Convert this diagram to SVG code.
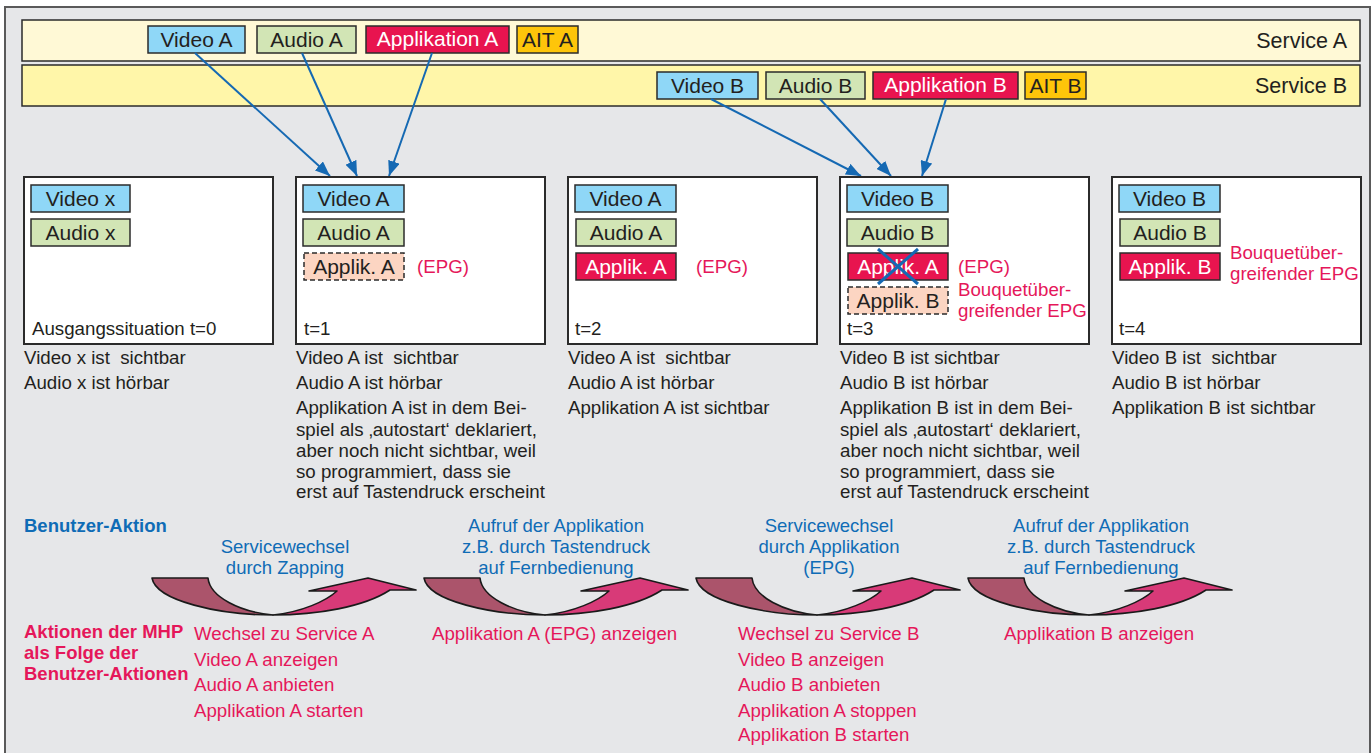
<svg xmlns="http://www.w3.org/2000/svg" width="1372" height="753" viewBox="0 0 1372 753">
  <defs>
    <style>
      text { font-family: "Liberation Sans", Arial, sans-serif; }
      .lbl { font-size: 21px; fill: #231f20; }
      .lblw { font-size: 21px; fill: #ffffff; }
      .svc { font-size: 21.5px; fill: #231f20; text-anchor: end; }
      .txt { font-size: 18.7px; fill: #231f20; }
      .red { font-size: 18.7px; fill: #e5175a; }
      .redb { font-size: 18.5px; fill: #e5175a; font-weight: bold; }
      .blue { font-size: 18.5px; fill: #0f6cb6; text-anchor: middle; }
      .blueb { font-size: 18.5px; fill: #0f6cb6; font-weight: bold; }
      .video { fill: #8fd7f7; stroke: #2b2b2b; stroke-width: 1.5; }
      .audio { fill: #d2e5b5; stroke: #2b2b2b; stroke-width: 1.5; }
      .app { fill: #e8144f; stroke: #2b2b2b; stroke-width: 1.5; }
      .ait { fill: #fec50a; stroke: #2b2b2b; stroke-width: 1.5; }
      .pend { fill: #fcd5c2; stroke: #2b2b2b; stroke-width: 1.5; stroke-dasharray: 5 3; }
      .screen { fill: #ffffff; stroke: #2b2b2b; stroke-width: 2; }
      .conn { stroke: #1569b3; stroke-width: 2; fill: none; }
      .ar-l { fill: #ab546b; stroke: #1a1a1a; stroke-width: 1.6; stroke-linejoin: round; }
      .ar-r { fill: #d83a78; stroke: #1a1a1a; stroke-width: 1.6; stroke-linejoin: round; }
    </style>
    <marker id="head" markerUnits="userSpaceOnUse" markerWidth="15" markerHeight="12" refX="15" refY="6" orient="auto">
      <path d="M0,0 L15,6 L0,12 z" fill="#1569b3"/>
    </marker>
    <!-- curved action arrow, origin at its top-left corner -->
    <g id="turn">
      <path class="ar-r" d="M121,37 C150,34 174,23 185,13 L157,13 L216,0 L264,12 L238,12 C212,29 165,37 121,37 Z"/>
      <path class="ar-l" d="M0,0 L56,0 C58,19 88,34 121,37 C68,37 4,23 0,0 Z"/>
    </g>
  </defs>

  <!-- background panel -->
  <rect x="0" y="0" width="1372" height="753" fill="#ffffff"/>
  <rect x="5" y="7" width="1365" height="760" fill="#e6e7e9" stroke="#5a5a5a" stroke-width="2"/>

  <!-- service A stream -->
  <g id="service-a">
    <rect x="22" y="20" width="1338" height="41" fill="#fff9d6" stroke="#2b2b2b" stroke-width="1.5"/>
    <rect class="video" x="148" y="26" width="97" height="27"/>
    <text class="lbl" x="196.5" y="47" text-anchor="middle">Video A</text>
    <rect class="audio" x="257" y="26" width="99" height="27"/>
    <text class="lbl" x="306.5" y="47" text-anchor="middle">Audio A</text>
    <rect class="app" x="366" y="26" width="143" height="27"/>
    <text class="lblw" x="437.5" y="46" text-anchor="middle">Applikation A</text>
    <rect class="ait" x="517" y="26" width="61" height="27"/>
    <text class="lbl" x="547.5" y="47" text-anchor="middle">AIT A</text>
    <text class="svc" x="1347" y="48">Service A</text>
  </g>

  <!-- service B stream -->
  <g id="service-b">
    <rect x="22" y="65" width="1338" height="41" fill="#fff6a9" stroke="#2b2b2b" stroke-width="1.5"/>
    <rect class="video" x="657" y="72" width="101" height="27"/>
    <text class="lbl" x="707.5" y="93" text-anchor="middle">Video B</text>
    <rect class="audio" x="766" y="72" width="99" height="27"/>
    <text class="lbl" x="815.5" y="93" text-anchor="middle">Audio B</text>
    <rect class="app" x="873" y="72" width="145" height="27"/>
    <text class="lblw" x="945.5" y="92" text-anchor="middle">Applikation B</text>
    <rect class="ait" x="1025" y="72" width="61" height="27"/>
    <text class="lbl" x="1055.5" y="93" text-anchor="middle">AIT B</text>
    <text class="svc" x="1347" y="93">Service B</text>
  </g>

  <!-- stream connectors -->
  <g id="connectors">
    <line class="conn" x1="195" y1="53" x2="330" y2="176" marker-end="url(#head)"/>
    <line class="conn" x1="302" y1="53" x2="357" y2="176" marker-end="url(#head)"/>
    <line class="conn" x1="432" y1="53" x2="389" y2="176" marker-end="url(#head)"/>
    <line class="conn" x1="711" y1="99" x2="861" y2="176" marker-end="url(#head)"/>
    <line class="conn" x1="820" y1="99" x2="891" y2="176" marker-end="url(#head)"/>
    <line class="conn" x1="946" y1="99" x2="922" y2="176" marker-end="url(#head)"/>
  </g>

  <!-- screen t=0 -->
  <g id="screen-0">
    <rect class="screen" x="24" y="177" width="249" height="167"/>
    <rect class="video" x="31" y="185" width="99" height="27"/>
    <text class="lbl" x="80.5" y="206" text-anchor="middle">Video x</text>
    <rect class="audio" x="31" y="219" width="99" height="27"/>
    <text class="lbl" x="80.5" y="240" text-anchor="middle">Audio x</text>
    <text class="txt" x="32" y="335">Ausgangssituation t=0</text>
    <text class="txt" x="24" y="364" xml:space="preserve">Video x ist  sichtbar</text>
    <text class="txt" x="24" y="389">Audio x ist hörbar</text>
  </g>

  <!-- screen t=1 -->
  <g id="screen-1">
    <rect class="screen" x="296" y="177" width="249" height="167"/>
    <rect class="video" x="303" y="185" width="101" height="27"/>
    <text class="lbl" x="353.5" y="206" text-anchor="middle">Video A</text>
    <rect class="audio" x="303" y="219" width="101" height="27"/>
    <text class="lbl" x="353.5" y="240" text-anchor="middle">Audio A</text>
    <rect class="pend" x="304" y="253" width="100" height="27"/>
    <text class="lbl" x="354" y="274" text-anchor="middle">Applik. A</text>
    <text class="red" x="417" y="273">(EPG)</text>
    <text class="txt" x="304" y="335">t=1</text>
    <text class="txt" x="296" y="364" xml:space="preserve">Video A ist  sichtbar</text>
    <text class="txt" x="296" y="389">Audio A ist hörbar</text>
    <text class="txt" x="296" y="414">Applikation A ist in dem Bei-</text>
    <text class="txt" x="296" y="436">spiel als ‚autostart‘ deklariert,</text>
    <text class="txt" x="296" y="457">aber noch nicht sichtbar, weil</text>
    <text class="txt" x="296" y="478">so programmiert, dass sie</text>
    <text class="txt" x="296" y="498">erst auf Tastendruck erscheint</text>
  </g>

  <!-- screen t=2 -->
  <g id="screen-2">
    <rect class="screen" x="568" y="177" width="249" height="167"/>
    <rect class="video" x="575" y="185" width="101" height="27"/>
    <text class="lbl" x="625.5" y="206" text-anchor="middle">Video A</text>
    <rect class="audio" x="576" y="219" width="100" height="27"/>
    <text class="lbl" x="626" y="240" text-anchor="middle">Audio A</text>
    <rect class="app" x="576" y="253" width="100" height="27"/>
    <text class="lblw" x="626" y="274" text-anchor="middle">Applik. A</text>
    <text class="red" x="696" y="273">(EPG)</text>
    <text class="txt" x="575" y="335">t=2</text>
    <text class="txt" x="568" y="364" xml:space="preserve">Video A ist  sichtbar</text>
    <text class="txt" x="568" y="389">Audio A ist hörbar</text>
    <text class="txt" x="568" y="414">Applikation A ist sichtbar</text>
  </g>

  <!-- screen t=3 -->
  <g id="screen-3">
    <rect class="screen" x="840" y="177" width="249" height="167"/>
    <rect class="video" x="847" y="185" width="101" height="27"/>
    <text class="lbl" x="897.5" y="206" text-anchor="middle">Video B</text>
    <rect class="audio" x="847" y="219" width="101" height="27"/>
    <text class="lbl" x="897.5" y="240" text-anchor="middle">Audio B</text>
    <rect class="app" x="848" y="253" width="100" height="27"/>
    <text class="lblw" x="898" y="274" text-anchor="middle">Applik. A</text>
    <line x1="878" y1="249" x2="918" y2="284" stroke="#1569b3" stroke-width="3"/>
    <line x1="918" y1="249" x2="878" y2="284" stroke="#1569b3" stroke-width="3"/>
    <rect class="pend" x="848" y="287" width="100" height="27"/>
    <text class="lbl" x="898" y="308" text-anchor="middle">Applik. B</text>
    <text class="red" x="958" y="273">(EPG)</text>
    <text class="red" x="958" y="296">Bouquetüber-</text>
    <text class="red" x="958" y="317">greifender EPG</text>
    <text class="txt" x="847" y="335">t=3</text>
    <text class="txt" x="840" y="364">Video B ist sichtbar</text>
    <text class="txt" x="840" y="389">Audio B ist hörbar</text>
    <text class="txt" x="840" y="414">Applikation B ist in dem Bei-</text>
    <text class="txt" x="840" y="436">spiel als ‚autostart‘ deklariert,</text>
    <text class="txt" x="840" y="457">aber noch nicht sichtbar, weil</text>
    <text class="txt" x="840" y="478">so programmiert, dass sie</text>
    <text class="txt" x="840" y="498">erst auf Tastendruck erscheint</text>
  </g>

  <!-- screen t=4 -->
  <g id="screen-4">
    <rect class="screen" x="1112" y="177" width="249" height="167"/>
    <rect class="video" x="1119" y="185" width="101" height="27"/>
    <text class="lbl" x="1169.5" y="206" text-anchor="middle">Video B</text>
    <rect class="audio" x="1120" y="219" width="100" height="27"/>
    <text class="lbl" x="1170" y="240" text-anchor="middle">Audio B</text>
    <rect class="app" x="1120" y="253" width="100" height="27"/>
    <text class="lblw" x="1170" y="274" text-anchor="middle">Applik. B</text>
    <text class="red" x="1230" y="259">Bouquetüber-</text>
    <text class="red" x="1230" y="280">greifender EPG</text>
    <text class="txt" x="1119" y="335">t=4</text>
    <text class="txt" x="1112" y="364" xml:space="preserve">Video B ist  sichtbar</text>
    <text class="txt" x="1112" y="389">Audio B ist hörbar</text>
    <text class="txt" x="1112" y="414">Applikation B ist sichtbar</text>
  </g>

  <!-- user actions row -->
  <g id="user-actions">
    <text class="blueb" x="24" y="532">Benutzer-Aktion</text>
    <text class="blue" x="285" y="553">Servicewechsel</text>
    <text class="blue" x="285" y="574">durch Zapping</text>
    <text class="blue" x="556" y="532">Aufruf der Applikation</text>
    <text class="blue" x="556" y="553">z.B. durch Tastendruck</text>
    <text class="blue" x="556" y="574">auf Fernbedienung</text>
    <text class="blue" x="829" y="532">Servicewechsel</text>
    <text class="blue" x="829" y="553">durch Applikation</text>
    <text class="blue" x="829" y="574">(EPG)</text>
    <text class="blue" x="1101" y="532">Aufruf der Applikation</text>
    <text class="blue" x="1101" y="553">z.B. durch Tastendruck</text>
    <text class="blue" x="1101" y="574">auf Fernbedienung</text>
  </g>

  <!-- transition arrows -->
  <g id="transitions">
    <use href="#turn" x="152" y="578"/>
    <use href="#turn" x="424" y="578"/>
    <use href="#turn" x="696" y="578"/>
    <use href="#turn" x="968" y="578"/>
  </g>

  <!-- MHP reactions row -->
  <g id="mhp-actions">
    <text class="redb" x="24" y="638">Aktionen der MHP</text>
    <text class="redb" x="24" y="659">als Folge der</text>
    <text class="redb" x="24" y="680">Benutzer-Aktionen</text>
    <text class="red" x="194" y="640">Wechsel zu Service A</text>
    <text class="red" x="194" y="666">Video A anzeigen</text>
    <text class="red" x="194" y="691">Audio A anbieten</text>
    <text class="red" x="194" y="717">Applikation A starten</text>
    <text class="red" x="432" y="640">Applikation A (EPG) anzeigen</text>
    <text class="red" x="738" y="640">Wechsel zu Service B</text>
    <text class="red" x="738" y="666">Video B anzeigen</text>
    <text class="red" x="738" y="691">Audio B anbieten</text>
    <text class="red" x="738" y="717">Applikation A stoppen</text>
    <text class="red" x="738" y="741">Applikation B starten</text>
    <text class="red" x="1004" y="640">Applikation B anzeigen</text>
  </g>
</svg>
